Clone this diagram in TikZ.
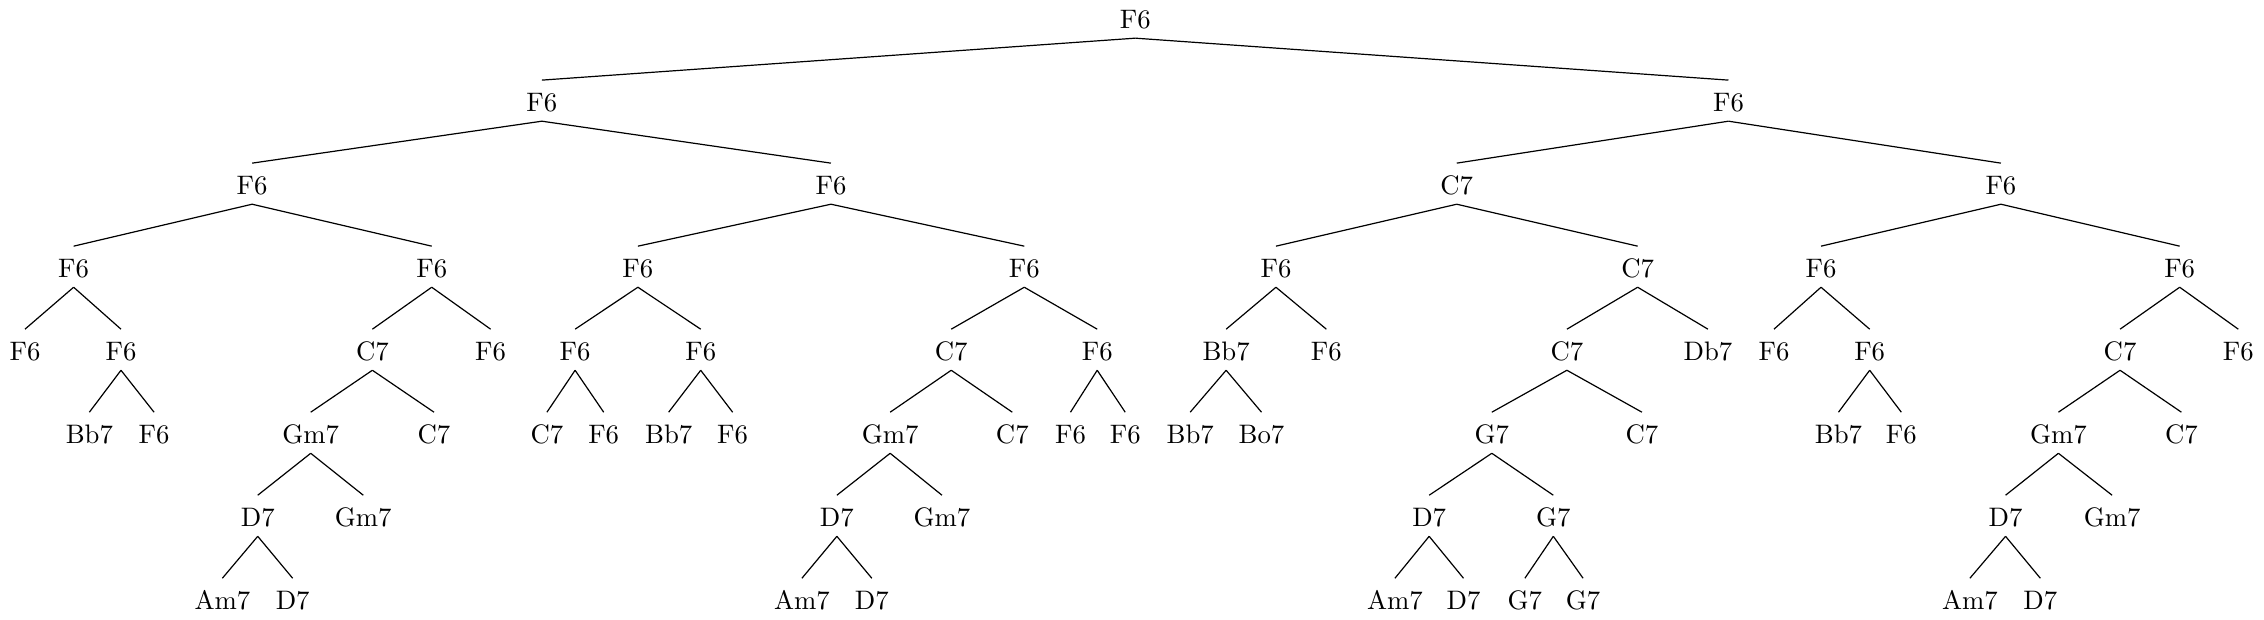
\documentclass[tikz,border=0pt]{standalone}
\begin{document}
\begin{tikzpicture}[x=0.54pt,y=-0.54pt,
  lbl/.style={anchor=base,inner sep=3.33pt,text height=8.3pt,text depth=0pt},
  edge/.style={draw=black,line width=0.45pt}]
\useasboundingbox (0,0) rectangle (1568,429);
% level baselines: 19.9 77.4 134.9 192.4 249.9 307.4 364.9 422.4
\node[lbl] (r) at (786.3,19.9) {F6};
% L1
\node[lbl] (a) at (375.3,77.4) {F6};
\node[lbl] (b) at (1197.1,77.4) {F6};
% L2
\node[lbl] (aa) at (174.6,134.9) {F6};
\node[lbl] (ab) at (575.5,134.9) {F6};
\node[lbl] (ba) at (1008.9,134.9) {C7};
\node[lbl] (bb) at (1385.8,134.9) {F6};
% L3
\node[lbl] (aaa) at (51.0,192.4) {F6};
\node[lbl] (aab) at (299.0,192.4) {F6};
\node[lbl] (aba) at (441.8,192.4) {F6};
\node[lbl] (abb) at (709.4,192.4) {F6};
\node[lbl] (baa) at (883.7,192.4) {F6};
\node[lbl] (bab) at (1134.2,192.4) {C7};
\node[lbl] (bba) at (1261.2,192.4) {F6};
\node[lbl] (bbb) at (1509.6,192.4) {F6};
% L4
\node[lbl] (aaaa) at (17.3,249.9) {F6};
\node[lbl] (aaab) at (83.8,249.9) {F6};
\node[lbl] (aaba) at (257.9,249.9) {C7};
\node[lbl] (aabb) at (339.8,249.9) {F6};
\node[lbl] (abaa) at (398.3,249.9) {F6};
\node[lbl] (abab) at (485.3,249.9) {F6};
\node[lbl] (abba) at (658.8,249.9) {C7};
\node[lbl] (abbb) at (759.9,249.9) {F6};
\node[lbl] (baaa) at (849.2,249.9) {Bb7};
\node[lbl] (baab) at (918.6,249.9) {F6};
\node[lbl] (baba) at (1085.2,249.9) {C7};
\node[lbl] (babb) at (1182.9,249.9) {Db7};
\node[lbl] (bbaa) at (1228.6,249.9) {F6};
\node[lbl] (bbab) at (1294.9,249.9) {F6};
\node[lbl] (bbba) at (1468.3,249.9) {C7};
\node[lbl] (bbbb) at (1550.2,249.9) {F6};
% L5
\node[lbl] (aaaba) at (61.9,307.4) {Bb7};
\node[lbl] (aaabb) at (106.7,307.4) {F6};
\node[lbl] (aabaa) at (215.2,307.4) {Gm7};
\node[lbl] (aabab) at (300.6,307.4) {C7};
\node[lbl] (abaaa) at (378.8,307.4) {C7};
\node[lbl] (abaab) at (418.1,307.4) {F6};
\node[lbl] (ababa) at (463.1,307.4) {Bb7};
\node[lbl] (ababb) at (507.4,307.4) {F6};
\node[lbl] (abbaa) at (616.5,307.4) {Gm7};
\node[lbl] (abbab) at (701.1,307.4) {C7};
\node[lbl] (abbba) at (741.4,307.4) {F6};
\node[lbl] (abbbb) at (779.3,307.4) {F6};
\node[lbl] (baaaa) at (824.3,307.4) {Bb7};
\node[lbl] (baaab) at (873.7,307.4) {Bo7};
\node[lbl] (babaa) at (1033.2,307.4) {G7};
\node[lbl] (babab) at (1137.2,307.4) {C7};
\node[lbl] (bbaba) at (1273.3,307.4) {Bb7};
\node[lbl] (bbabb) at (1316.8,307.4) {F6};
\node[lbl] (bbbaa) at (1425.6,307.4) {Gm7};
\node[lbl] (bbbab) at (1510.8,307.4) {C7};
% L6
\node[lbl] (aabaaa) at (178.5,364.9) {D7};
\node[lbl] (aabaab) at (251.6,364.9) {Gm7};
\node[lbl] (abbaaa) at (579.6,364.9) {D7};
\node[lbl] (abbaab) at (652.4,364.9) {Gm7};
\node[lbl] (babaaa) at (989.8,364.9) {D7};
\node[lbl] (babaab) at (1075.8,364.9) {G7};
\node[lbl] (bbbaaa) at (1389.0,364.9) {D7};
\node[lbl] (bbbaab) at (1462.8,364.9) {Gm7};
% L7
\node[lbl] (aabaaaa) at (154.0,422.4) {Am7};
\node[lbl] (aabaaab) at (202.7,422.4) {D7};
\node[lbl] (abbaaaa) at (555.4,422.4) {Am7};
\node[lbl] (abbaaab) at (603.8,422.4) {D7};
\node[lbl] (babaaaa) at (966.1,422.4) {Am7};
\node[lbl] (babaaab) at (1013.6,422.4) {D7};
\node[lbl] (babaaba) at (1056.1,422.4) {G7};
\node[lbl] (babaabb) at (1096.4,422.4) {G7};
\node[lbl] (bbbaaaa) at (1364.3,422.4) {Am7};
\node[lbl] (bbbaaab) at (1413.1,422.4) {D7};
% edges
\foreach \p/\c in {r/a,r/b,
  a/aa,a/ab,b/ba,b/bb,
  aa/aaa,aa/aab,ab/aba,ab/abb,ba/baa,ba/bab,bb/bba,bb/bbb,
  aaa/aaaa,aaa/aaab,aab/aaba,aab/aabb,aba/abaa,aba/abab,abb/abba,abb/abbb,
  baa/baaa,baa/baab,bab/baba,bab/babb,bba/bbaa,bba/bbab,bbb/bbba,bbb/bbbb,
  aaab/aaaba,aaab/aaabb,aaba/aabaa,aaba/aabab,abaa/abaaa,abaa/abaab,
  abab/ababa,abab/ababb,abba/abbaa,abba/abbab,abbb/abbba,abbb/abbbb,
  baaa/baaaa,baaa/baaab,baba/babaa,baba/babab,bbab/bbaba,bbab/bbabb,
  bbba/bbbaa,bbba/bbbab,
  aabaa/aabaaa,aabaa/aabaab,abbaa/abbaaa,abbaa/abbaab,
  babaa/babaaa,babaa/babaab,bbbaa/bbbaaa,bbbaa/bbbaab,
  aabaaa/aabaaaa,aabaaa/aabaaab,abbaaa/abbaaaa,abbaaa/abbaaab,
  babaaa/babaaaa,babaaa/babaaab,babaab/babaaba,babaab/babaabb,
  bbbaaa/bbbaaaa,bbbaaa/bbbaaab}
  \draw[edge] (\p.south) -- (\c.north);
\end{tikzpicture}
\end{document}
